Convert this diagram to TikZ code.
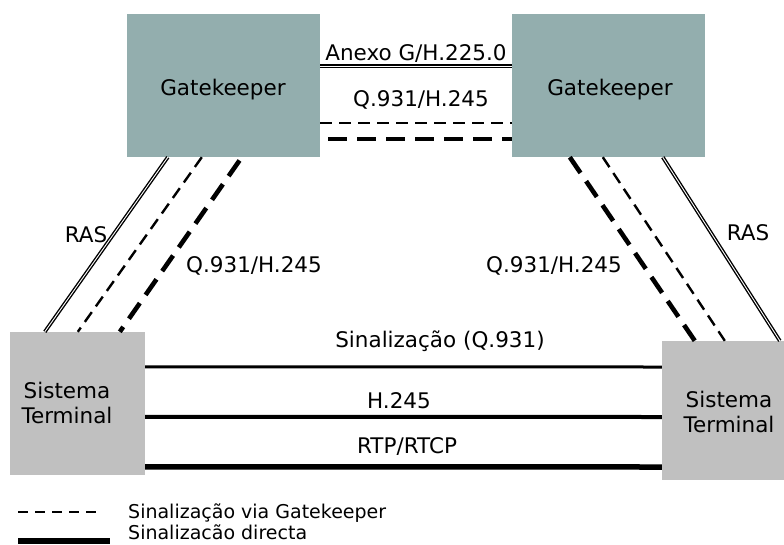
\documentclass[tikz,border=0pt]{standalone}
\usepackage{fontspec}
\setmainfont{DejaVu Sans}
\usetikzlibrary{calc}
\definecolor{gkfill}{RGB}{147,174,174}
\definecolor{stfill}{RGB}{192,192,192}
\tikzset{
  gkbox/.style={rectangle, fill=gkfill, minimum width=193pt, minimum height=143pt, inner sep=0pt},
  stbox/.style={rectangle, fill=stfill, inner sep=0pt},
  lbl/.style={inner sep=0pt, anchor=base, font=\fontsize{21.5}{25}\selectfont},
  keylbl/.style={inner sep=0pt, anchor=base west, font=\fontsize{19}{23}\selectfont},
  rasline/.style={double, line width=1.4pt, double distance=0.9pt},
  gkthin/.style={line width=2.4pt, dash pattern=on 12pt off 7pt},
  gkthick/.style={line width=4.6pt, dash pattern=on 19pt off 10pt},
  dirline/.style={line width=#1},
}
\begin{document}
\begin{tikzpicture}[x=1pt, y=-1pt]
\useasboundingbox (0,0) rectangle (784,544);

% gatekeepers
\node[gkbox] (gk1) at (223.5,85.5) {};
\node[gkbox] (gk2) at (608.5,85.5) {};
\node[lbl] (gk1t) at (223,95) {Gatekeeper};
\node[lbl] (gk2t) at (610,95) {Gatekeeper};

% terminals
\node[stbox, minimum width=135pt, minimum height=143pt] (st1) at (77.5,403.5) {};
\begin{scope}
\clip (0,0) rectangle (784,544);
\node[stbox, minimum width=132pt, minimum height=139pt] (st2) at (728,410.5) {};
\end{scope}
\node[lbl] (st1a) at (67,398) {Sistema};
\node[lbl] (st1b) at (67,423) {Terminal};
\node[lbl] (st2a) at (729,407) {Sistema};
\node[lbl] (st2b) at (729,432) {Terminal};

% gatekeeper to gatekeeper
\draw[rasline] ($(gk1.east)+(0,-19.5)$) -- ($(gk2.west)+(0,-19.5)$);
\draw[gkthin] ($(gk1.east)+(0,37.5)$) -- ($(gk2.west)+(0,37.5)$);
\draw[gkthick, dash phase=-8pt] ($(gk1.east)+(0,53.5)$) -- ($(gk2.west)+(0,53.5)$);
\node[lbl] (anexo) at (416,60) {Anexo G/H.225.0};
\node[lbl] (q1) at (421,106) {Q.931/H.245};

% left terminal to left gatekeeper
\coordinate (l1a) at ([xshift=41pt]gk1.south west);
\coordinate (l1b) at ([xshift=35pt]st1.north west);
\coordinate (l2a) at ([xshift=75pt]gk1.south west);
\coordinate (l2b) at ([xshift=68pt]st1.north west);
\coordinate (l3a) at ([xshift=115pt]gk1.south west);
\coordinate (l3b) at ([xshift=110pt]st1.north west);
\draw[rasline] (l1a) -- (l1b);
\draw[gkthin] (l2a) -- (l2b);
\draw[gkthick, dash phase=-4pt] (l3a) -- (l3b);
\node[lbl] (ras1) at (86,242) {RAS};
\node[lbl] (q2) at (254,272) {Q.931/H.245};

% right gatekeeper to right terminal
\coordinate (r1a) at ([xshift=58pt]gk2.south west);
\coordinate (r1b) at ([xshift=33pt]st2.north west);
\coordinate (r2a) at ([xshift=91pt]gk2.south west);
\coordinate (r2b) at ([xshift=63pt]st2.north west);
\coordinate (r3a) at ([xshift=151pt]gk2.south west);
\coordinate (r3b) at ([xshift=118pt]st2.north west);
\draw[gkthick] (r1a) -- (r1b);
\draw[gkthin] (r2a) -- (r2b);
\draw[rasline] (r3a) -- (r3b);
\node[lbl] (ras2) at (748,240) {RAS};
\node[lbl] (q3) at (554,272) {Q.931/H.245};

% direct signalling between terminals
\draw[dirline=3pt] ($(st1.north east)+(0,35)$) -- (st2.west |- 0,367);
\draw[dirline=4pt] ($(st1.north east)+(0,85)$) -- (st2.west |- 0,417);
\draw[dirline=5.5pt] ($(st1.north east)+(0,135)$) -- (st2.west |- 0,467);
\node[lbl] (sq) at (440,347) {Sinalização (Q.931)};
\node[lbl] (sh) at (399,408) {H.245};
\node[lbl] (sr) at (407,453) {RTP/RTCP};

% legend
\coordinate (k1a) at (18,512);
\coordinate (k1b) at (100,512);
\coordinate (k2a) at (18,541);
\coordinate (k2b) at (110,541);
\draw[line width=2.4pt, dash pattern=on 10pt off 7pt] (k1a) -- (k1b);
\draw[line width=6pt] (k2a) -- (k2b);
\node[keylbl] (kt1) at (128,518) {Sinalização via Gatekeeper};
\node[keylbl] (kt2) at (128,539) {Sinalizacão directa};
\end{tikzpicture}
\end{document}
